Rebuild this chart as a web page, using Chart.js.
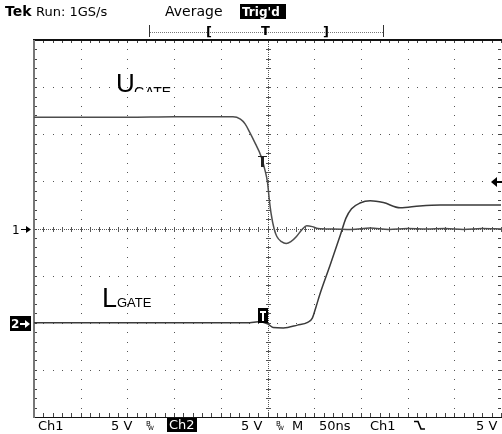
<!DOCTYPE html>
<html>
<head>
<meta charset="utf-8">
<script src="https://cdn.jsdelivr.net/npm/chart.js@4.4.0/dist/chart.umd.min.js"></script>
<style>
  html, body { margin: 0; padding: 0; background: #fff; }
  canvas { display: block; }
</style>
</head>
<body>
<canvas id="scope" width="502" height="434"></canvas>
<script>
// scope settings: 50 ns/div horizontal, 5 V/div both channels
var timeMin = -250, timeMax = 250, timeDiv = 50;
var voltMin = -20, voltMax = 20, voltDiv = 5;
var ch2Offset = -10; // Ch2 ground sits 2 div below the centre line

// UGATE (Ch1), time in ns, volts
var uTime = [-250, -200, -150, -100, -50, -37, -29, -24, -19, -13, -7, -3, 0, 2, 4, 7, 10, 15, 20, 25, 31, 37, 42, 48, 54, 70, 90, 110, 130, 150, 170, 190, 210, 230, 250];
var uVolt = [11.8, 11.8, 11.8, 11.85, 11.85, 11.85, 11.6, 11.1, 10.2, 9.0, 7.7, 6.3, 4.9, 3.0, 1.5, 0, -0.85, -1.4, -1.6, -1.4, -0.85, -0.1, 0.3, 0.2, 0, -0.05, -0.1, 0.05, -0.1, 0, -0.05, 0, -0.1, 0, -0.05];

// LGATE (Ch2), time in ns, volts
var lTime = [-250, -200, -150, -100, -50, -19, -10, 0, 6, 17, 32, 43, 48, 52, 56, 67, 78, 84, 90, 99, 110, 124, 142, 163, 185, 217, 250];
var lVolt = [0, 0, 0, 0, 0, 0, 0.1, -0.1, -0.5, -0.55, -0.25, 0.05, 0.5, 1.7, 3.0, 6.1, 9.3, 11.1, 12.1, 12.7, 12.95, 12.75, 12.2, 12.4, 12.5, 12.5, 12.5];

// trigger markers / levels
var trigTime = -6;
var trigLevel = 5;

function toPoints(ts, vs, off) {
  var pts = [];
  ts.forEach(function(t, i){ pts.push({x: t, y: vs[i] + off}); });
  return pts;
}

var scopeGrid = {
  id: 'scopeGrid',
  beforeDatasetsDraw: function(chart){
    var ctx = chart.ctx, xs = chart.scales.x, ys = chart.scales.y, a = chart.chartArea;
    var minorT = timeDiv / 5, minorV = voltDiv / 5;
    var X = function(t){ return Math.round(xs.getPixelForValue(t)); };
    var Y = function(v){ return Math.round(ys.getPixelForValue(v)); };
    ctx.save();
    ctx.fillStyle = '#555';
    // dotted division lines
    for (var t = timeMin + timeDiv; t < timeMax; t += timeDiv) {
      if (t === 0) continue;
      for (var v = voltMin; v <= voltMax; v += minorV) ctx.fillRect(X(t), Y(v), 1, 1);
    }
    for (var v2 = voltMin + voltDiv; v2 < voltMax; v2 += voltDiv) {
      if (v2 === 0) continue;
      for (var t2 = timeMin; t2 <= timeMax; t2 += minorT) ctx.fillRect(X(t2), Y(v2), 1, 1);
    }
    // centre axes: fine dots + minor ticks
    var cx = X(0), cy = Y(0);
    for (var px = a.left; px < a.right; px += 2) ctx.fillRect(px, cy, 1, 1);
    for (var py = a.top; py < a.bottom; py += 2) ctx.fillRect(cx, py, 1, 1);
    for (var t3 = timeMin; t3 <= timeMax; t3 += minorT) ctx.fillRect(X(t3), cy - 2, 1, 5);
    for (var v3 = voltMin; v3 <= voltMax; v3 += minorV) ctx.fillRect(cx - 2, Y(v3), 5, 1);
    // border ticks
    ctx.fillStyle = '#444';
    for (var t4 = timeMin; t4 <= timeMax; t4 += minorT) {
      ctx.fillRect(X(t4), a.top, 1, 3);
      ctx.fillRect(X(t4), a.bottom - 4, 1, 4);
    }
    for (var v4 = voltMin; v4 <= voltMax; v4 += minorV) {
      ctx.fillRect(a.left, Y(v4), 3, 1);
      ctx.fillRect(a.right - 3, Y(v4), 3, 1);
    }
    // frame
    ctx.fillStyle = '#111';
    ctx.fillRect(a.left - 1, a.top - 1, a.right - a.left + 2, 2);
    ctx.fillRect(a.left - 1, a.bottom, a.right - a.left + 2, 1);
    ctx.fillStyle = '#777';
    ctx.fillRect(a.left - 1, a.top, 2, a.bottom - a.top + 1);
    ctx.restore();
  }
};

var scopeText = {
  id: 'scopeText',
  afterDraw: function(chart){
    var ctx = chart.ctx, xs = chart.scales.x, ys = chart.scales.y;
    var sans = '"DejaVu Sans", Verdana, sans-serif';
    var arial = '"Liberation Sans", Arial, sans-serif';
    ctx.save();
    ctx.textBaseline = 'alphabetic';

    function txt(s, x, y, font, col) {
      ctx.font = font; ctx.fillStyle = col || '#000'; ctx.fillText(s, x, y);
    }
    function inv(s, x, y, w, h, font) {
      ctx.fillStyle = '#000'; ctx.fillRect(x, y, w, h);
      ctx.font = font; ctx.fillStyle = '#fff'; ctx.fillText(s, x + 2, y + h - 3);
    }

    // header
    txt('Tek', 5, 16, 'bold 14px ' + sans);
    txt('Run: 1GS/s', 36, 16, '13px ' + sans);
    txt('Average', 165, 16, '14px ' + sans);
    inv("Trig'd", 240, 4, 46, 15, 'bold 12px ' + sans);

    // record bar
    ctx.fillStyle = '#777';
    for (var rx = 150; rx <= 383; rx += 2) ctx.fillRect(rx, 32, 1, 1);
    ctx.fillStyle = '#333';
    ctx.fillRect(149, 25, 1, 12);
    ctx.fillRect(383, 25, 1, 12);
    txt('[', 206, 36, 'bold 13px ' + sans);
    txt('T', 261, 35, 'bold 13px ' + sans);
    txt(']', 323, 36, 'bold 13px ' + sans);

    // channel ground markers
    var y1 = Math.round(ys.getPixelForValue(0));
    txt('1', 12, y1 + 5, '12px ' + sans);
    ctx.fillStyle = '#000';
    ctx.fillRect(21, y1, 7, 1);
    ctx.beginPath(); ctx.moveTo(31, y1 + 0.5); ctx.lineTo(26, y1 - 3); ctx.lineTo(26, y1 + 4); ctx.fill();
    var y2 = Math.round(ys.getPixelForValue(ch2Offset));
    ctx.fillRect(10, y2 - 7, 21, 15);
    txt('2', 11, y2 + 5, 'bold 12px ' + sans, '#fff');
    ctx.fillStyle = '#fff';
    ctx.fillRect(20, y2, 6, 2);
    ctx.beginPath(); ctx.moveTo(30, y2 + 1); ctx.lineTo(25, y2 - 3); ctx.lineTo(25, y2 + 5); ctx.fill();

    // trigger level arrow (right edge)
    var yt = Math.round(ys.getPixelForValue(trigLevel));
    ctx.fillStyle = '#000';
    ctx.fillRect(495, yt, 7, 2);
    ctx.beginPath(); ctx.moveTo(491, yt + 1); ctx.lineTo(497, yt - 4); ctx.lineTo(497, yt + 6); ctx.fill();

    // trigger point markers on traces
    var xm = Math.round(xs.getPixelForValue(trigTime));
    var ym = Math.round(ys.getPixelForValue(7.7));
    ctx.fillStyle = '#222';
    ctx.fillRect(xm - 4, ym, 9, 1);
    ctx.fillRect(xm - 1, ym, 3, 11);
    var yl = Math.round(ys.getPixelForValue(ch2Offset));
    ctx.fillStyle = '#000';
    ctx.fillRect(xm - 4, yl - 15, 10, 15);
    ctx.fillStyle = '#fff';
    ctx.fillRect(xm - 2, yl - 12, 6, 2);
    ctx.fillRect(xm, yl - 12, 2, 10);

    // trace labels
    ctx.save();
    ctx.beginPath(); ctx.rect(90, 60, 100, 32); ctx.clip();
    txt('U', 116, 92, '26px ' + arial);
    txt('GATE', 134, 97, '14px ' + arial);
    ctx.restore();
    txt('L', 102, 307, '27px ' + arial);
    txt('GATE', 117, 307, '13px ' + arial);

    // footer
    var fy = 430, f = '13px ' + sans, tiny = '7px ' + sans;
    txt('Ch1', 38, fy, f);
    txt('5 V', 111, fy, f);
    txt('B', 146, 426, tiny); txt('W', 148, 430, '6px ' + sans);
    inv('Ch2', 167, 418, 30, 14, f);
    txt('5 V', 241, fy, f);
    txt('B', 276, 426, tiny); txt('W', 278, 430, '6px ' + sans);
    txt('M', 292, fy, f);
    txt('50ns', 319, fy, f);
    txt('Ch1', 370, fy, f);
    ctx.strokeStyle = '#000'; ctx.lineWidth = 1.6;
    ctx.beginPath(); ctx.moveTo(414, 421.5); ctx.lineTo(418, 421.5); ctx.lineTo(421, 429); ctx.lineTo(425, 429); ctx.stroke();
    txt('5 V', 476, fy, f);
    ctx.restore();
  }
};

new Chart(document.getElementById('scope'), {
  type: 'line',
  data: {
    datasets: [{
      label: 'UGATE',
      data: toPoints(uTime, uVolt, 0),
      borderColor: '#4d4d4d',
      borderWidth: 1.5,
      pointRadius: 0,
      cubicInterpolationMode: 'monotone',
      fill: false
    }, {
      label: 'LGATE',
      data: toPoints(lTime, lVolt, ch2Offset),
      borderColor: '#3a3a3a',
      borderWidth: 1.5,
      pointRadius: 0,
      cubicInterpolationMode: 'monotone',
      fill: false
    }]
  },
  options: {
    responsive: false,
    animation: false,
    devicePixelRatio: 1,
    layout: { padding: { left: 34, top: 40, right: 1, bottom: 17 } },
    scales: {
      x: { type: 'linear', min: timeMin, max: timeMax, display: false },
      y: { type: 'linear', min: voltMin, max: voltMax, display: false }
    },
    plugins: { legend: { display: false }, tooltip: { enabled: false } }
  },
  plugins: [scopeGrid, scopeText]
});
</script>
</body>
</html>
